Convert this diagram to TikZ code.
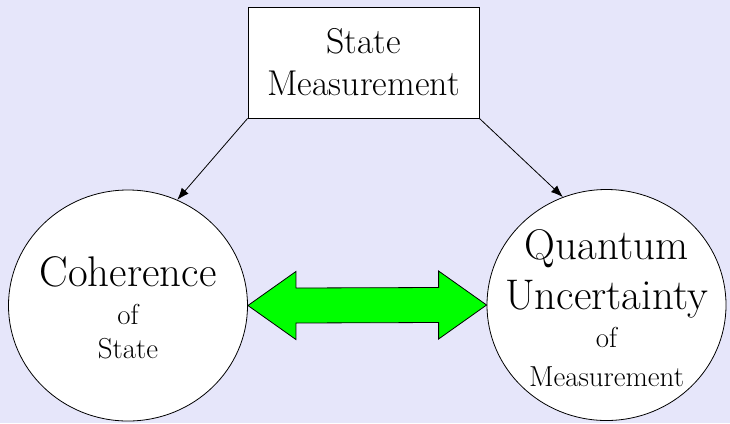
\documentclass[tikz,border=0pt]{standalone}
\usepackage{tikz}
\usetikzlibrary{arrows.meta,positioning,calc,shapes.geometric}
\definecolor{bgLavender}{RGB}{230,230,250}
\definecolor{arrowGreen}{RGB}{0,255,0}

\begin{document}
\begin{tikzpicture}[
    x=1bp, y=-1bp,
    >={Latex[length=12bp,width=9bp]},
    flow/.style={->, line width=0.8bp},
    block/.style={
        draw,
        fill=white,
        align=center,
        minimum width=231bp,
        minimum height=111bp,
        inner sep=0pt,
        line width=0.8bp,
        font=\fontsize{36}{42}\selectfont
    },
    bubble/.style={
        draw,
        ellipse,
        fill=white,
        minimum width=239bp,
        minimum height=231bp,
        inner sep=0pt,
        line width=0.8bp
    },
    bubbletext/.style={
        align=center,
        inner sep=0pt,
        font=\fontsize{29}{34}\selectfont,
        execute at begin node={\lineskiplimit=-1000pt\relax}
    },
    twoway/.style={
        draw,
        fill=arrowGreen,
        line width=0.8bp,
        line join=miter
    }
]

% Background and page size
\fill[bgLavender] (0,0) rectangle (730,423);

% Measurement box and the two bubbles
\node[block] (meas) at (363.5,62.5) {State\\Measurement};

\node[bubble] (coh) at (128,305.5) {};
\node[bubbletext, yshift=-2.5bp] (cohtext) at (coh.center)
{{\fontsize{43}{44}\selectfont Coherence}\\[4bp]
of\\
State};

\node[bubble] (qu) at (606.5,305) {};
\node[bubbletext, yshift=-3bp] (qutext) at (qu.center)
{{\fontsize{43}{44}\selectfont Quantum}\\[16bp]
{\fontsize{43}{44}\selectfont Uncertainty}\\[4bp]
of\\[5bp]
Measurement};

% Connectors
\draw[flow] (meas.south west) -- (coh.65.5);
\draw[flow] (meas.south east) -- (qu.112.6);

% Double arrow between the bubbles
\draw[twoway] (coh.east)
    -- ($(coh.east)+(48,-34)$) -- ($(coh.east)+(48,-17.5)$)
    -- ($(qu.west)+(-48,-17.5)$) -- ($(qu.west)+(-48,-34)$)
    -- (qu.west)
    -- ($(qu.west)+(-48,34)$) -- ($(qu.west)+(-48,17.5)$)
    -- ($(coh.east)+(48,17.5)$) -- ($(coh.east)+(48,34)$)
    -- cycle;

\end{tikzpicture}
\end{document}
